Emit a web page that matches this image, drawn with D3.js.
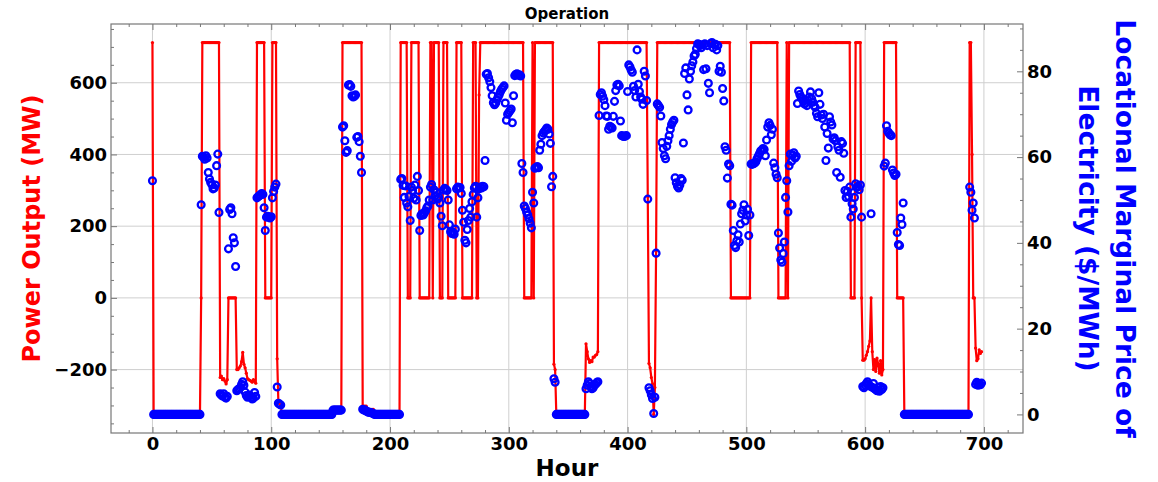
<!DOCTYPE html>
<html>
<head>
<meta charset="utf-8">
<script src="https://cdn.jsdelivr.net/npm/d3@7"></script>
<style>
  body { margin: 0; background: #fff; }
  text { font-family: "DejaVu Sans", sans-serif; font-weight: bold; }
</style>
</head>
<body>
<svg id="chart" width="1158" height="482"></svg>
<script>
// power output (MW): [hour, value] - value holds until the next listed hour
const powerSteps = [
  [0, 712], [1, -325], [41, 0], [42, 712],
  [57, -222], [58, -218], [59, -228], [60, -225], [61, -232], [62, -240], [63, -228],
  [64, 0],
  [71, -200], [72, -200], [73, -195], [74, -190], [75, -178], [76, -152], [77, -185],
  [78, -195], [79, -210], [80, -225], [81, -228], [82, -230], [83, -232], [84, -235],
  [85, -228], [86, -232], [87, -238],
  [88, 712], [95, 0], [101, 712],
  [105, -170], [106, -290], [107, -295], [108, -300], [109, -325],
  [152, -305], [160, 712], [177, -302], [181, -311], [187, -325],
  [209, 712], [215, 0], [218, 712], [225, 0], [234, 712], [236, 0], [237, 712],
  [242, 0], [245, 712], [249, 0], [256, 712], [261, 0], [270, 712], [273, 0],
  [275, 566], [276, 712], [313, 0], [320, 712], [321, 0], [322, 712],
  [338, -185], [339, -200], [340, -325],
  [365, -128], [366, -150], [367, -170], [368, -180], [369, -175], [370, -178],
  [371, -165], [372, -165], [373, -160], [374, -158], [375, -150],
  [376, 712], [417, 282], [418, -183], [419, -195], [420, -222], [421, -240],
  [422, -325], [423, -250], [424, 130], [425, 712],
  [487, 0], [504, 712], [527, 0], [534, 712], [535, 0], [536, 712],
  [588, 0], [592, 712], [597, 0],
  [598, -174], [599, -174], [600, -170], [601, -160], [602, -150], [603, -135],
  [604, -120], [605, 0], [606, -150], [607, -200], [608, -172], [609, -205],
  [610, -168], [611, -185], [612, -210], [613, -175], [614, -215], [615, -200],
  [616, 712], [627, 0], [633, -325],
  [688, 712], [690, 400], [691, 0], [693, -140], [694, -175], [695, -170],
  [696, -145], [697, -155], [698, -150]
];

// locational marginal price ($/MWh), one value per hour from hour 0
const lmp = [
  54.5, 0, 0, 0, 0, 0, 0, 0, 0, 0,                          // 0
  0, 0, 0, 0, 0, 0, 0, 0, 0, 0,                             // 10
  0, 0, 0, 0, 0, 0, 0, 0, 0, 0,                             // 20
  0, 0, 0, 0, 0, 0, 0, 0, 0, 0,                             // 30
  0, 48.9, 60.2, 60.0, 59.5, 60.3, 59.8, 56.4, 54.9, 54.1,  // 40
  53.6, 52.6, 52.8, 53.5, 58.0, 60.7, 47.1, 4.8, 4.5, 4.3,  // 50
  4.8, 4.0, 3.8, 4.2, 38.6, 47.8, 48.2, 46.8, 41.2, 40.0,   // 60
  34.5, 5.5, 5.8, 6.0, 6.3, 7.0, 7.6, 6.8, 5.2, 4.4,        // 70
  4.0, 4.3, 4.5, 4.0, 3.6, 3.8, 5.1, 4.2, 50.5, 50.8,       // 80
  51.0, 51.2, 51.5, 51.3, 48.2, 42.9, 46.0, 46.2, 46.0, 45.8, // 90
  46.1, 50.5, 52.0, 53.0, 53.7, 6.4, 2.6, 2.4, 2.2, 0,      // 100
  0, 0, 0, 0, 0, 0, 0, 0, 0, 0,                             // 110
  0, 0, 0, 0, 0, 0, 0, 0, 0, 0,                             // 120
  0, 0, 0, 0, 0, 0, 0, 0, 0, 0,                             // 130
  0, 0, 0, 0, 0, 0, 0, 0, 0, 0,                             // 140
  0, 0, 1.0, 1.0, 1.0, 1.0, 1.0, 1.0, 1.0, 1.0,             // 150
  67.0, 67.3, 63.8, 61.1, 61.5, 76.8, 76.9, 76.5, 74.3, 74.0, // 160
  74.2, 74.5, 64.6, 64.8, 63.6, 60.2, 56.4, 1.2, 1.0, 1.0,  // 170
  0.8, 0.6, 0.5, 0.5, 0.4, 0.3, 0.2, 0, 0, 0,               // 180
  0, 0, 0, 0, 0, 0, 0, 0, 0, 0,                             // 190
  0, 0, 0, 0, 0, 0, 0, 0, 0, 54.8,                          // 200
  55.0, 53.4, 50.6, 53.3, 49.3, 48.4, 50.8, 45.2, 53.0, 52.2, // 210
  50.4, 53.5, 50.0, 55.5, 52.2, 42.9, 46.4, 46.8, 46.5, 47.0, // 220
  47.5, 48.2, 48.6, 50.0, 53.0, 53.6, 50.0, 52.4, 51.0, 51.8, // 230
  50.2, 50.6, 49.3, 46.2, 44.0, 52.3, 52.7, 52.5, 52.2, 50.0, // 240
  44.2, 42.6, 42.2, 42.5, 42.0, 43.2, 52.6, 53.0, 52.8, 52.9, // 250
  51.5, 47.6, 44.8, 40.6, 40.0, 43.1, 45.2, 48.0, 46.0, 49.6, // 260
  51.3, 52.8, 53.2, 46.0, 50.5, 52.6, 53.0, 52.8, 53.2, 53.1, // 270
  59.2, 79.3, 79.5, 78.5, 77.6, 76.2, 74.3, 72.7, 72.2, 72.6, // 280
  73.4, 74.0, 74.6, 75.3, 75.8, 76.2, 76.6, 72.6, 68.6, 70.0, // 290
  70.4, 70.8, 71.2, 68.0, 74.3, 79.0, 79.3, 79.4, 79.1, 79.2, // 300
  78.9, 58.5, 56.4, 48.6, 48.0, 47.2, 46.5, 45.6, 44.6, 43.5, // 310
  51.8, 49.3, 57.4, 57.6, 57.8, 57.5, 61.6, 63.0, 65.0, 65.6, // 320
  66.0, 66.3, 66.8, 66.5, 65.4, 63.2, 53.1, 55.5, 8.3, 7.5, // 330
  0, 0, 0, 0, 0, 0, 0, 0, 0, 0,                             // 340
  0, 0, 0, 0, 0, 0, 0, 0, 0, 0,                             // 350
  0, 0, 0, 0, 0, 6.0, 6.8, 7.6, 7.2, 6.5,                   // 360
  6.0, 6.2, 6.8, 7.0, 7.4, 7.6, 69.7, 74.6, 75.0, 74.2,     // 370
  73.4, 72.0, 69.6, 69.5, 66.5, 67.2, 67.0, 66.8, 69.5, 73.0, // 380
  75.5, 76.8, 77.0, 76.6, 68.4, 65.0, 64.9, 64.8, 64.9, 65.0, // 390
  75.3, 81.5, 81.0, 80.3, 79.8, 76.5, 75.5, 74.0, 85.0, 77.0, // 400
  75.3, 74.0, 73.5, 72.3, 80.0, 78.9, 73.2, 50.2, 6.2, 5.5, // 410
  4.6, 3.7, 0.2, 4.0, 37.6, 72.4, 72.0, 71.6, 69.6, 63.4,   // 420
  62.0, 60.3, 59.6, 62.5, 63.8, 65.0, 66.5, 67.6, 68.2, 68.6, // 430
  55.2, 54.0, 53.2, 52.8, 53.5, 55.0, 54.6, 63.3, 79.5, 80.8, // 440
  74.5, 71.0, 78.2, 80.0, 81.3, 82.2, 83.6, 84.0, 85.3, 86.4, // 450
  86.3, 86.0, 85.5, 86.2, 80.4, 86.4, 80.6, 86.0, 77.2, 75.0, // 460
  86.5, 86.7, 85.5, 86.2, 86.3, 85.0, 86.0, 80.0, 81.2, 79.8, // 470
  76.0, 73.1, 62.4, 61.6, 55.1, 58.4, 58.0, 49.0, 48.8, 42.9, // 480
  39.4, 38.9, 40.5, 41.9, 40.2, 44.4, 46.8, 47.6, 48.9, 45.1, // 490
  46.5, 47.8, 41.7, 46.5, 58.4, 58.3, 58.5, 58.6, 58.9, 59.6, // 500
  60.2, 60.8, 61.4, 61.6, 62.0, 61.8, 60.3, 64.0, 67.0, 68.0, // 510
  67.4, 65.2, 66.5, 58.6, 57.5, 56.0, 55.2, 42.3, 38.8, 36.0, // 520
  35.5, 37.5, 40.2, 50.6, 54.5, 47.2, 58.0, 60.7, 59.0, 60.5, // 530
  61.0, 59.8, 60.2, 72.5, 75.4, 74.6, 74.0, 73.6, 73.0, 72.4, // 540
  72.6, 72.0, 73.2, 74.0, 75.2, 73.6, 72.8, 72.0, 71.6, 70.2, // 550
  69.4, 75.0, 72.3, 69.8, 69.0, 70.0, 67.0, 59.2, 65.5, 62.1, // 560
  69.4, 68.2, 67.5, 64.2, 64.5, 63.8, 56.4, 62.4, 61.6, 55.3, // 570
  63.6, 63.2, 60.9, 52.2, 50.6, 52.0, 50.8, 53.0, 46.0, 49.1, // 580
  47.9, 50.6, 53.8, 52.9, 53.2, 52.4, 53.5, 46.0, 6.5, 6.2, // 590
  6.8, 7.2, 7.6, 7.0, 6.6, 46.8, 6.3, 7.2, 6.0, 5.8,        // 600
  5.5, 6.3, 5.4, 6.5, 5.8, 6.2, 57.9, 58.6, 67.3, 66.0,     // 610
  65.6, 65.2, 65.0, 57.0, 56.3, 55.7, 56.0, 42.4, 39.6, 39.4, // 620
  45.8, 44.3, 49.3, 0, 0, 0, 0, 0, 0, 0,                    // 630
  0, 0, 0, 0, 0, 0, 0, 0, 0, 0,                             // 640
  0, 0, 0, 0, 0, 0, 0, 0, 0, 0,                             // 650
  0, 0, 0, 0, 0, 0, 0, 0, 0, 0,                             // 660
  0, 0, 0, 0, 0, 0, 0, 0, 0, 0,                             // 670
  0, 0, 0, 0, 0, 0, 0, 0, 53.0, 51.8,                       // 680
  47.6, 49.3, 45.8, 7.0, 7.5, 6.8, 7.2, 6.9, 7.3            // 690
];

const hourTicks = [0, 100, 200, 300, 400, 500, 600, 700];
const powerTicks = [-200, 0, 200, 400, 600];
const priceTicks = [0, 20, 40, 60, 80];

const svg = d3.select("#chart");
const m = { left: 111, right: 1023, top: 24, bottom: 433 };
const spine = "#777";

const hours = lmp.map((d, i) => i);
const power = [];
let s = 0;
hours.forEach(h => {
  while (s + 1 < powerSteps.length && powerSteps[s + 1][0] <= h) s++;
  power.push(powerSteps[s][1]);
});

// matplotlib-like 5% margins
const pad = ([a, b]) => [a - (b - a) * 0.05, b + (b - a) * 0.05];
const x = d3.scaleLinear().domain(pad(d3.extent(hours))).range([m.left, m.right]);
const yP = d3.scaleLinear().domain(pad(d3.extent(power))).range([m.bottom, m.top]);
const yL = d3.scaleLinear().domain(pad(d3.extent(lmp))).range([m.bottom, m.top]);

// grid
const grid = svg.append("g").attr("stroke", "#cfcfcf").attr("stroke-width", 1);
hourTicks.forEach(t => grid.append("line")
  .attr("x1", x(t)).attr("x2", x(t)).attr("y1", m.top).attr("y2", m.bottom));
powerTicks.forEach(t => grid.append("line")
  .attr("x1", m.left).attr("x2", m.right).attr("y1", yP(t)).attr("y2", yP(t)));

// power line + small markers
svg.append("path")
  .datum(hours)
  .attr("fill", "none")
  .attr("stroke", "red")
  .attr("stroke-width", 2.2)
  .attr("stroke-linejoin", "round")
  .attr("d", d3.line().x(h => x(h)).y(h => yP(power[h])));

svg.append("g").selectAll("circle")
  .data(hours)
  .join("circle")
  .attr("cx", h => x(h))
  .attr("cy", h => yP(power[h]))
  .attr("r", 1.6)
  .attr("fill", "red");

// price markers
svg.append("g").selectAll("circle")
  .data(hours)
  .join("circle")
  .attr("cx", h => x(h))
  .attr("cy", h => yL(lmp[h]))
  .attr("r", 3.4)
  .attr("fill", "none")
  .attr("stroke", "blue")
  .attr("stroke-width", 2.3);

// axes (ticks point inward)
function styleAxis(g) {
  g.select(".domain").remove();
  g.selectAll("line").attr("stroke", spine);
  g.selectAll("text").attr("font-size", 18).attr("fill", "#000")
    .attr("font-family", "DejaVu Sans").attr("font-weight", "bold");
}
const minor = (lo, hi, step, majors) =>
  d3.range(lo, hi + step / 2, step).filter(v => !majors.includes(v));

svg.append("g").attr("transform", `translate(0,${m.bottom})`)
  .call(d3.axisBottom(x).tickValues(hourTicks).tickSize(-6).tickPadding(4))
  .call(styleAxis);
svg.append("g").attr("transform", `translate(0,${m.bottom})`)
  .call(d3.axisBottom(x).tickValues(minor(-20, 720, 20, hourTicks)).tickSize(-3).tickFormat(""))
  .call(styleAxis);
svg.append("g").attr("transform", `translate(0,${m.top})`)
  .call(d3.axisTop(x).tickValues(hourTicks).tickSize(-6).tickFormat(""))
  .call(styleAxis);
svg.append("g").attr("transform", `translate(0,${m.top})`)
  .call(d3.axisTop(x).tickValues(minor(-20, 720, 20, hourTicks)).tickSize(-3).tickFormat(""))
  .call(styleAxis);

svg.append("g").attr("transform", `translate(${m.left},0)`)
  .call(d3.axisLeft(yP).tickValues(powerTicks).tickSize(-6).tickPadding(4))
  .call(styleAxis);
svg.append("g").attr("transform", `translate(${m.left},0)`)
  .call(d3.axisLeft(yP).tickValues(minor(-350, 750, 50, powerTicks)).tickSize(-3).tickFormat(""))
  .call(styleAxis);

svg.append("g").attr("transform", `translate(${m.right},0)`)
  .call(d3.axisRight(yL).tickValues(priceTicks).tickSize(-6).tickPadding(4))
  .call(styleAxis);
svg.append("g").attr("transform", `translate(${m.right},0)`)
  .call(d3.axisRight(yL).tickValues(minor(0, 90, 5, priceTicks)).tickSize(-3).tickFormat(""))
  .call(styleAxis);

// frame
svg.append("rect")
  .attr("x", m.left).attr("y", m.top)
  .attr("width", m.right - m.left).attr("height", m.bottom - m.top)
  .attr("fill", "none").attr("stroke", spine).attr("stroke-width", 1.2);

// titles
svg.append("text")
  .attr("x", (m.left + m.right) / 2).attr("y", 19)
  .attr("text-anchor", "middle").attr("font-size", 15)
  .text("Operation");

svg.append("text")
  .attr("x", (m.left + m.right) / 2).attr("y", 476)
  .attr("text-anchor", "middle").attr("font-size", 23)
  .text("Hour");

svg.append("text")
  .attr("transform", `translate(40,${(m.top + m.bottom) / 2}) rotate(-90)`)
  .attr("text-anchor", "middle").attr("font-size", 24).attr("fill", "red")
  .text("Power Output (MW)");

const rightLabel = ["Locational Marginal Price of", "Electricity ($/MWh)"];
rightLabel.forEach((t, i) => {
  svg.append("text")
    .attr("transform", `translate(${1116 - i * 37},${(m.top + m.bottom) / 2}) rotate(90)`)
    .attr("text-anchor", "middle").attr("font-size", 26.5).attr("fill", "blue")
    .text(t);
});
</script>
</body>
</html>
